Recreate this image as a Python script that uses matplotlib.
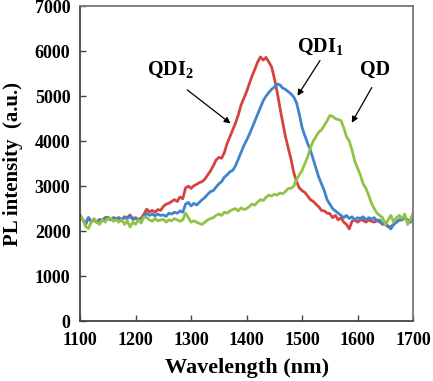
import matplotlib
matplotlib.use("Agg")
import matplotlib.pyplot as plt
import numpy as np

# PL spectra, 5 nm steps from 1100 to 1700 nm
wavelength = np.arange(1100, 1705, 5)

qdi2 = [
    2350, 2250, 2150, 2300, 2200, 2250, 2200, 2260, 2240, 2300,
    2310, 2260, 2300, 2280, 2300, 2260, 2320, 2300, 2360, 2280,
    2300, 2260, 2290, 2380, 2490, 2430, 2460, 2420, 2480, 2460,
    2550, 2600, 2620, 2660, 2700, 2660, 2760, 2720, 2960, 3000,
    2950, 3010, 3040, 3080, 3100, 3160, 3250, 3340, 3450, 3580,
    3640, 3620, 3750, 3950, 4100, 4250, 4400, 4580, 4800, 4950,
    5100, 5280, 5450, 5600, 5760, 5870, 5800, 5860, 5760, 5650,
    5400, 5100, 4750, 4420, 4100, 3850, 3600, 3300, 3100, 2960,
    2900, 2860, 2780, 2700, 2660, 2600, 2540, 2460, 2450, 2400,
    2390, 2300, 2350, 2250, 2300, 2200, 2150, 2050, 2220, 2250,
    2200, 2250, 2240, 2200, 2250, 2220, 2200, 2250, 2200, 2160,
    2150, 2100, 2100, 2150, 2200, 2250, 2250, 2300, 2250, 2200,
    2300,
]

qdi1 = [
    2350, 2250, 2180, 2300, 2220, 2250, 2200, 2250, 2240, 2290,
    2300, 2250, 2290, 2270, 2290, 2250, 2300, 2280, 2330, 2260,
    2280, 2240, 2260, 2320, 2400, 2350, 2380, 2340, 2380, 2350,
    2360, 2330, 2400, 2380, 2420, 2400, 2450, 2420, 2600, 2640,
    2560, 2620, 2580, 2640, 2700, 2750, 2820, 2880, 2900, 2980,
    3050, 3100, 3200, 3250, 3320, 3350, 3450, 3600, 3750, 3900,
    4020, 4150, 4300, 4450, 4600, 4750, 4900, 5000, 5080, 5150,
    5200, 5270, 5250, 5180, 5150, 5100, 5050, 4980, 4850, 4600,
    4300, 4120, 3950, 3800, 3600, 3400, 3200, 3050, 2900, 2700,
    2600, 2500, 2450, 2400, 2350, 2300, 2350, 2280, 2320, 2250,
    2300, 2280, 2320, 2250, 2300, 2270, 2300, 2220, 2250, 2150,
    2200, 2100, 2050, 2150, 2200, 2250, 2250, 2300, 2250, 2200,
    2300,
]

qd = [
    2350, 2250, 2100, 2060, 2200, 2280, 2200, 2150, 2250, 2200,
    2280, 2290, 2220, 2250, 2200, 2260, 2150, 2230, 2090, 2200,
    2150, 2250, 2180, 2320, 2300, 2250, 2220, 2280, 2230, 2250,
    2260, 2200, 2250, 2230, 2280, 2250, 2220, 2250, 2400, 2300,
    2200, 2230, 2200, 2170, 2150, 2200, 2250, 2280, 2300, 2350,
    2380, 2350, 2420, 2400, 2450, 2480, 2500, 2450, 2520, 2480,
    2500, 2550, 2600, 2580, 2650, 2700, 2680, 2750, 2800, 2780,
    2820, 2800, 2850, 2830, 2880, 2950, 2950, 3000, 3150, 3250,
    3350, 3500, 3650, 3850, 4000, 4100, 4200, 4250, 4350, 4450,
    4570, 4550, 4500, 4480, 4460, 4300, 4100, 4000, 3800, 3550,
    3400, 3250, 3050, 2950, 2800, 2620, 2500, 2400, 2350, 2300,
    2150, 2250, 2350, 2200, 2300, 2350, 2280, 2380, 2150, 2250,
    2400,
]

x_ticks = [1100, 1200, 1300, 1400, 1500, 1600, 1700]
y_ticks = [0, 1000, 2000, 3000, 4000, 5000, 6000, 7000]

plt.rcParams["font.family"] = ["Liberation Serif", "DejaVu Serif"]
plt.rcParams["font.weight"] = "bold"
plt.rcParams["mathtext.fontset"] = "custom"
plt.rcParams["mathtext.rm"] = "Liberation Serif"
plt.rcParams["mathtext.it"] = "Liberation Serif:italic"
plt.rcParams["mathtext.bf"] = "Liberation Serif:bold"

fig = plt.figure(figsize=(4.33, 3.81), dpi=100)
ax = fig.add_axes([0.185, 0.157, 0.769, 0.827])

ax.plot(wavelength, qdi2, color="#d6433f", lw=2.0)
ax.plot(wavelength, qdi1, color="#3f85cc", lw=2.0)
ax.plot(wavelength, qd, color="#8fc444", lw=2.0)

ax.set_xlim(1100, 1700)
ax.set_ylim(0, 7000)
ax.set_xticks(x_ticks)
ax.set_yticks(y_ticks)
ax.tick_params(direction="in", length=4, width=1, labelsize=13,
               top=False, right=False, color="#444444")
ax.tick_params(axis="x", pad=8)
ax.tick_params(axis="y", pad=7)
for lab in ax.get_xticklabels() + ax.get_yticklabels():
    lab.set_fontweight("bold")

for side in ["left", "bottom"]:
    ax.spines[side].set_color("#444444")
    ax.spines[side].set_linewidth(1.3)
for side in ["top", "right"]:
    ax.spines[side].set_color("#777777")
    ax.spines[side].set_linewidth(1.3)

ax.set_xlabel("Wavelength (nm)", fontsize=16, fontweight="bold")
ax.set_ylabel("PL intensity  (a.u.)", fontsize=15, fontweight="bold")
ax.xaxis.set_label_coords(0.5, -0.118)
ax.yaxis.set_label_coords(-0.172, 0.5)

arrow = dict(arrowstyle="-|>", color="black", lw=0.9, mutation_scale=9)
ax.annotate("", xy=(1375, 4355), xytext=(1289, 5177), arrowprops=arrow)
ax.annotate("", xy=(1489, 4955), xytext=(1535, 5844), arrowprops=arrow)
ax.annotate("", xy=(1587, 4355), xytext=(1628, 5244), arrowprops=arrow)
ax.text(1262, 5580, "QDI$_\\mathrm{2}$", fontsize=14.5, fontweight="bold",
        ha="center", va="center")
ax.text(1532, 6090, "QDI$_\\mathrm{1}$", fontsize=14.5, fontweight="bold",
        ha="center", va="center")
ax.text(1631, 5580, "QD", fontsize=14.5, fontweight="bold",
        ha="center", va="center")

fig.savefig("out.png", dpi=100)
